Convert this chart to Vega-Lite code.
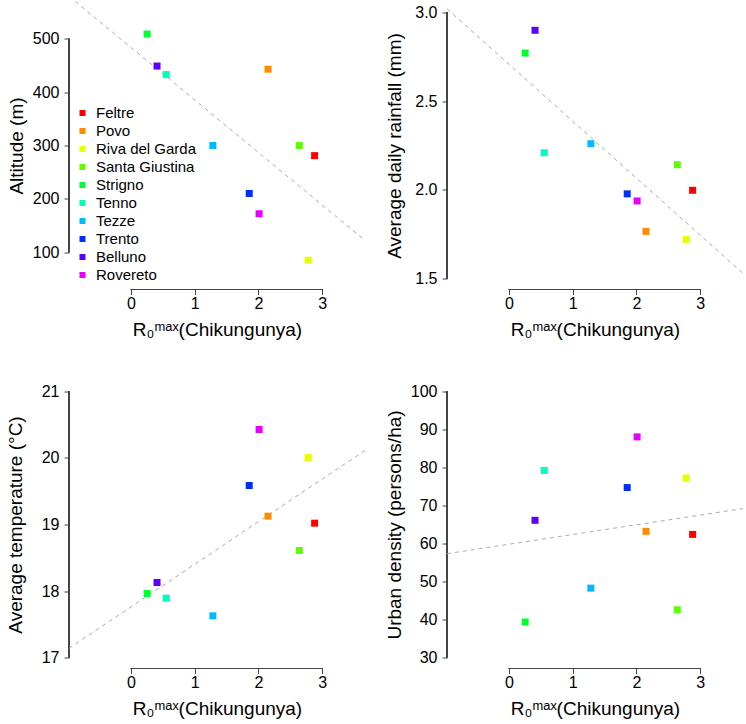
{
  "$schema": "https://vega.github.io/schema/vega-lite/v6.json",
  "padding": {"left": 6, "top": 1.5, "right": 0, "bottom": 0},
  "bounds": "flush",
  "columns": 2,
  "spacing": {"row": 91, "column": 82},
  "data": {"values": [
    {"name": "Feltre", "r0": 2.88, "altitude": 281, "rainfall": 1.998, "temperature": 19.02, "density": 62.4},
    {"name": "Povo", "r0": 2.15, "altitude": 443, "rainfall": 1.767, "temperature": 19.125, "density": 63.2},
    {"name": "Riva del Garda", "r0": 2.78, "altitude": 85, "rainfall": 1.722, "temperature": 20.005, "density": 77.2},
    {"name": "Santa Giustina", "r0": 2.64, "altitude": 300, "rainfall": 2.142, "temperature": 18.61, "density": 42.6},
    {"name": "Strigno", "r0": 0.255, "altitude": 509, "rainfall": 2.77, "temperature": 17.965, "density": 39.4},
    {"name": "Tenno", "r0": 0.555, "altitude": 433, "rainfall": 2.209, "temperature": 17.895, "density": 79.2},
    {"name": "Tezze", "r0": 1.285, "altitude": 300, "rainfall": 2.26, "temperature": 17.63, "density": 48.3},
    {"name": "Trento", "r0": 1.855, "altitude": 210, "rainfall": 1.978, "temperature": 19.585, "density": 74.7},
    {"name": "Belluno", "r0": 0.41, "altitude": 449, "rainfall": 2.898, "temperature": 18.13, "density": 66.1},
    {"name": "Rovereto", "r0": 2.01, "altitude": 172, "rainfall": 1.938, "temperature": 20.425, "density": 88.0}
  ]},
  "config": {
    "view": {"stroke": null},
    "font": "Liberation Sans",
    "axis": {"domain": false, "grid": false, "tickColor": "#444", "tickSize": 5, "labelFontSize": 16, "labelColor": "#000", "titleFontSize": 19, "titleFontWeight": "normal", "titleColor": "#000", "labelFont": "Liberation Sans", "titleFont": "Liberation Sans", "labelOverlap": false, "labelFlush": false},
    "axisY": {"labelAngle": 0, "labelPadding": 5},
    "axisX": {"labelPadding": 1, "titlePadding": 9},
    "legend": {"orient": "bottom-left", "offset": 6, "padding": 0, "title": null, "labelFontSize": 15, "labelFont": "Liberation Sans", "labelColor": "#000", "symbolType": "square", "symbolSize": 36, "symbolStrokeWidth": 0, "rowPadding": 2, "labelOffset": 6}
  },
  "resolve": {"legend": {"color": "independent"}},
  "concat": [
    {
      "width": 296, "height": 288,
      "encoding": {
        "x": {"field": "r0", "type": "quantitative", "scale": {"domain": [-0.97, 3.67], "nice": false, "zero": false}, "axis": {"values": [0, 1, 2, 3], "title": "R₀ᵐᵃˣ(Chikungunya)"}},
        "y": {"field": "altitude", "type": "quantitative", "scale": {"domain": [30, 570], "nice": false, "zero": false}, "axis": {"values": [100, 200, 300, 400, 500], "title": "Altitude (m)", "titlePadding": 5.5}}
      },
      "layer": [
        {"mark": {"type": "rule", "color": "#444"}, "encoding": {"x": {"datum": -0.97}, "y": {"datum": 100}, "y2": {"datum": 500}}},
        {"mark": {"type": "rule", "color": "#444"}, "encoding": {"y": {"datum": 30}, "x": {"datum": 0}, "x2": {"datum": 3}}},
        {"transform": [{"regression": "altitude", "on": "r0", "extent": [-0.97, 3.67]}], "mark": {"type": "line", "strokeDash": [4, 4], "color": "#aaa", "strokeWidth": 1, "clip": true}, "encoding": {}},
        {"mark": {"type": "square", "size": 49, "opacity": 1}, "encoding": {"color": {"field": "name", "type": "nominal", "scale": {"domain": ["Feltre", "Povo", "Riva del Garda", "Santa Giustina", "Strigno", "Tenno", "Tezze", "Trento", "Belluno", "Rovereto"], "range": ["#FF0000", "#FF8B00", "#E8FF00", "#5DFF00", "#00FF2E", "#00FFB9", "#00B9FF", "#002EFF", "#5D00FF", "#E800FF"]}}}}
      ]
    },
    {
      "width": 296, "height": 288,
      "encoding": {
        "x": {"field": "r0", "type": "quantitative", "scale": {"domain": [-0.97, 3.67], "nice": false, "zero": false}, "axis": {"values": [0, 1, 2, 3], "title": "R₀ᵐᵃˣ(Chikungunya)"}},
        "y": {"field": "rainfall", "type": "quantitative", "scale": {"domain": [1.44, 3.06], "nice": false, "zero": false}, "axis": {"values": [1.5, 2.0, 2.5, 3.0], "format": ".1f", "title": "Average daily rainfall (mm)", "titlePadding": 10}}
      },
      "layer": [
        {"mark": {"type": "rule", "color": "#444"}, "encoding": {"x": {"datum": -0.97}, "y": {"datum": 1.5}, "y2": {"datum": 3.0}}},
        {"mark": {"type": "rule", "color": "#444"}, "encoding": {"y": {"datum": 1.44}, "x": {"datum": 0}, "x2": {"datum": 3}}},
        {"transform": [{"regression": "rainfall", "on": "r0", "extent": [-0.97, 3.67]}], "mark": {"type": "line", "strokeDash": [4, 4], "color": "#aaa", "strokeWidth": 1, "clip": true}, "encoding": {}},
        {"mark": {"type": "square", "size": 49, "opacity": 1}, "encoding": {"color": {"field": "name", "type": "nominal", "legend": null}}}
      ]
    },
    {
      "width": 296, "height": 288,
      "encoding": {
        "x": {"field": "r0", "type": "quantitative", "scale": {"domain": [-0.97, 3.67], "nice": false, "zero": false}, "axis": {"values": [0, 1, 2, 3], "title": "R₀ᵐᵃˣ(Chikungunya)"}},
        "y": {"field": "temperature", "type": "quantitative", "scale": {"domain": [16.84, 21.16], "nice": false, "zero": false}, "axis": {"values": [17, 18, 19, 20, 21], "title": "Average temperature (°C)", "titlePadding": 16}}
      },
      "layer": [
        {"mark": {"type": "rule", "color": "#444"}, "encoding": {"x": {"datum": -0.97}, "y": {"datum": 17}, "y2": {"datum": 21}}},
        {"mark": {"type": "rule", "color": "#444"}, "encoding": {"y": {"datum": 16.84}, "x": {"datum": 0}, "x2": {"datum": 3}}},
        {"transform": [{"regression": "temperature", "on": "r0", "extent": [-0.97, 3.67]}], "mark": {"type": "line", "strokeDash": [4, 4], "color": "#aaa", "strokeWidth": 1, "clip": true}, "encoding": {}},
        {"mark": {"type": "square", "size": 49, "opacity": 1}, "encoding": {"color": {"field": "name", "type": "nominal", "legend": null}}}
      ]
    },
    {
      "width": 296, "height": 288,
      "encoding": {
        "x": {"field": "r0", "type": "quantitative", "scale": {"domain": [-0.97, 3.67], "nice": false, "zero": false}, "axis": {"values": [0, 1, 2, 3], "title": "R₀ᵐᵃˣ(Chikungunya)"}},
        "y": {"field": "density", "type": "quantitative", "scale": {"domain": [27.2, 102.8], "nice": false, "zero": false}, "axis": {"values": [30, 40, 50, 60, 70, 80, 90, 100], "title": "Urban density (persons/ha)", "titlePadding": 5.5}}
      },
      "layer": [
        {"mark": {"type": "rule", "color": "#444"}, "encoding": {"x": {"datum": -0.97}, "y": {"datum": 30}, "y2": {"datum": 100}}},
        {"mark": {"type": "rule", "color": "#444"}, "encoding": {"y": {"datum": 27.2}, "x": {"datum": 0}, "x2": {"datum": 3}}},
        {"transform": [{"regression": "density", "on": "r0", "extent": [-0.97, 3.67]}], "mark": {"type": "line", "strokeDash": [4, 4], "color": "#aaa", "strokeWidth": 1, "clip": true}, "encoding": {}},
        {"mark": {"type": "square", "size": 49, "opacity": 1}, "encoding": {"color": {"field": "name", "type": "nominal", "legend": null}}}
      ]
    }
  ]
}
